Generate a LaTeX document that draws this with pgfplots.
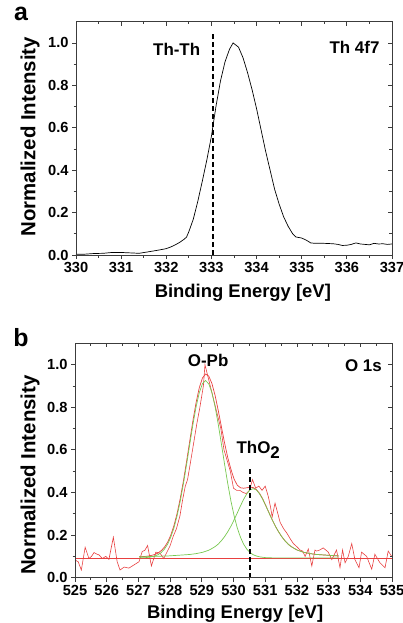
\documentclass[border=0pt]{standalone}
\usepackage{pgfplots}
\pgfplotsset{compat=1.18}
\usepackage{fontspec}
\setmainfont{Liberation Sans}
\definecolor{myred}{RGB}{232,64,64}
\definecolor{mygreen}{RGB}{120,200,80}
\definecolor{axgray}{RGB}{60,60,60}

\pgfplotsset{
  xpsbase/.style={
    scale only axis,
    ymin=0, ymax=1.1,
    ytick={0,0.2,0.4,0.6,0.8,1.0},
    minor y tick num=1,
    minor x tick num=1,
    axis line style={axgray, line width=0.8pt},
    every tick/.style={axgray, line width=0.8pt},
    major tick length=4bp,
    minor tick length=2.5bp,
    /pgf/number format/assume math mode=true,
    ticklabel style={font=\fontsize{14.7}{16}\selectfont\bfseries},
    yticklabel style={/pgf/number format/.cd, fixed, fixed zerofill, precision=1, /pgf/number format/assume math mode=true},
    xticklabel style={/pgf/number format/.cd, 1000 sep={}, /pgf/number format/assume math mode=true},
  },
  mainax/.style={xpsbase, tick align=outside, xtick pos=left, ytick pos=left},
  mirrorax/.style={xpsbase, tick align=inside, xtick pos=right, ytick pos=right,
    xticklabels={}, yticklabels={}},
}

\begin{document}
\begin{tikzpicture}
\useasboundingbox (0,0) rectangle (403bp,-623bp);

% ---------------- panel a ----------------
\begin{axis}[mainax, at={(76bp,-255bp)}, anchor=south west,
  width=316bp, height=233.3bp,
  xmin=330, xmax=337, xtick={330,331,...,337},
  xlabel={Binding Energy [eV]}, ylabel={Normalized Intensity},
  every axis x label/.style={at={(axis description cs:0.528,-0.162)}, anchor=center, font=\fontsize{18.5}{20}\selectfont\bfseries},
  every axis y label/.style={at={(axis description cs:-0.1456,0.507)}, rotate=90, anchor=center, font=\fontsize{20.5}{22}\selectfont\bfseries},
  clip=false]
\addplot[black, line width=0.7pt] coordinates {
(330.0,0.003) (330.2,0.004) (330.4,0.007) (330.6,0.008) (330.8,0.012)
(331.0,0.012) (331.2,0.010) (331.4,0.008) (331.6,0.015) (331.8,0.022)
(332.0,0.030) (332.1,0.038) (332.2,0.048) (332.3,0.060) (332.4,0.075)
(332.45,0.085) (332.5,0.110) (332.6,0.170) (332.7,0.255) (332.8,0.350)
(332.9,0.450) (333.0,0.560) (333.1,0.700) (333.2,0.820) (333.3,0.910)
(333.4,0.970) (333.48,1.000) (333.6,0.980) (333.7,0.930) (333.8,0.860)
(333.9,0.780) (334.0,0.690) (334.1,0.590) (334.2,0.490) (334.3,0.400)
(334.4,0.310) (334.5,0.240) (334.6,0.180) (334.7,0.135) (334.8,0.100)
(334.87,0.085) (335.0,0.080) (335.1,0.070) (335.2,0.057) (335.3,0.055)
(335.5,0.055) (335.7,0.053) (335.8,0.050) (335.9,0.045) (336.0,0.046)
(336.1,0.050) (336.2,0.057) (336.3,0.052) (336.4,0.050) (336.5,0.048)
(336.6,0.055) (336.7,0.052) (336.8,0.053) (336.9,0.050) (337.0,0.052)
};
\addplot[black, line width=1.5pt, dash pattern=on 5bp off 3bp] coordinates {(333.03,0) (333.03,1.04)};
\node[font=\fontsize{17}{19}\selectfont\bfseries] at (axis cs:332.23,0.97) {Th-Th};
\node[font=\fontsize{17}{19}\selectfont\bfseries] at (axis cs:336.17,0.98) {Th 4f7};
\end{axis}
\begin{axis}[mirrorax, at={(76bp,-255bp)}, anchor=south west,
  width=316bp, height=233.3bp,
  xmin=330, xmax=337, xtick={330,331,...,337}]
\end{axis}

% ---------------- panel b ----------------
\begin{axis}[mainax, at={(75bp,-577.7bp)}, anchor=south west,
  width=317bp, height=234.4bp,
  xmin=525, xmax=535, xtick={525,526,...,535},
  xlabel={Binding Energy [eV]}, ylabel={Normalized Intensity},
  every axis x label/.style={at={(axis description cs:0.505,-0.153)}, anchor=center, font=\fontsize{18.5}{20}\selectfont\bfseries},
  every axis y label/.style={at={(axis description cs:-0.142,0.438)}, rotate=90, anchor=center, font=\fontsize{20.5}{22}\selectfont\bfseries},
  clip=false]
% baseline
\addplot[myred, line width=0.7pt] coordinates {(525,0.093) (535,0.093)};
% measured data
\addplot[myred, line width=0.6pt] coordinates {
(525.00,0.083) (525.10,0.075) (525.20,0.036) (525.32,0.143) (525.44,0.090)
(525.52,0.100) (525.60,0.118) (525.70,0.110) (525.76,0.107) (525.86,0.090)
(525.97,0.100) (526.07,0.086) (526.21,0.190) (526.33,0.075) (526.42,0.036)
(526.55,0.050) (526.70,0.045) (526.86,0.060) (527.02,0.075) (527.12,0.123)
(527.20,0.128) (527.29,0.151) (527.41,0.055) (527.55,0.120) (527.68,0.115)
(527.80,0.090) (527.90,0.120) (528.00,0.150) (528.10,0.195) (528.20,0.230)
(528.31,0.290) (528.40,0.370) (528.48,0.430) (528.55,0.460) (528.63,0.530)
(528.73,0.620) (528.84,0.720) (528.94,0.800) (529.05,0.900) (529.10,1.000)
(529.20,0.940) (529.30,0.880) (529.40,0.820) (529.50,0.760) (529.60,0.700)
(529.70,0.600) (529.80,0.550) (529.90,0.500) (530.00,0.420) (530.10,0.410)
(530.20,0.410) (530.30,0.400) (530.40,0.395) (530.50,0.410) (530.60,0.460)
(530.70,0.420) (530.80,0.430) (530.90,0.410) (531.00,0.430) (531.10,0.380)
(531.17,0.330) (531.22,0.285) (531.31,0.350) (531.40,0.300) (531.47,0.260)
(531.58,0.230) (531.68,0.210) (531.80,0.180) (531.89,0.160) (532.00,0.145)
(532.10,0.130) (532.18,0.125) (532.26,0.100) (532.36,0.135) (532.47,0.055)
(532.57,0.130) (532.62,0.125) (532.72,0.130) (532.83,0.140) (532.99,0.120)
(533.10,0.085) (533.25,0.130) (533.36,0.047) (533.44,0.130) (533.52,0.070)
(533.62,0.100) (533.73,0.160) (533.83,0.085) (533.96,0.047) (534.04,0.120)
(534.20,0.100) (534.36,0.040) (534.46,0.110) (534.62,0.070) (534.78,0.047)
(534.88,0.125) (534.99,0.100)
};
% fit envelope
\addplot[myred, line width=0.7pt] coordinates {
(527.02,0.099) (527.12,0.099) (527.22,0.100) (527.32,0.102) (527.42,0.105)
(527.52,0.109) (527.62,0.116) (527.72,0.127) (527.82,0.143) (527.92,0.166)
(528.02,0.199) (528.12,0.244) (528.22,0.301) (528.32,0.372) (528.42,0.454)
(528.52,0.546) (528.62,0.642) (528.72,0.737) (528.82,0.822) (528.92,0.891)
(529.02,0.937) (529.12,0.956) (529.22,0.946) (529.32,0.911) (529.42,0.855)
(529.52,0.784) (529.62,0.707) (529.72,0.631) (529.82,0.563) (529.92,0.508)
(530.02,0.462) (530.12,0.434) (530.22,0.422) (530.32,0.420) (530.42,0.422)
(530.52,0.425) (530.62,0.423) (530.72,0.414) (530.82,0.396) (530.92,0.371)
(531.02,0.338) (531.12,0.305) (531.22,0.272) (531.32,0.242) (531.42,0.216)
(531.52,0.193) (531.62,0.174) (531.72,0.158) (531.82,0.146) (531.92,0.137)
(532.02,0.129) (532.12,0.124) (532.22,0.119) (532.32,0.116) (532.42,0.113)
(532.52,0.111) (532.62,0.109) (532.72,0.108) (532.82,0.107) (532.92,0.106)
(533.02,0.105) (533.12,0.104) (533.22,0.103) (533.32,0.102)
};
% component 1 (O-Pb)
\addplot[mygreen, line width=0.7pt] coordinates {
(527.02,0.093) (527.12,0.094) (527.22,0.094) (527.32,0.096) (527.42,0.098)
(527.52,0.102) (527.62,0.108) (527.72,0.118) (527.82,0.134) (527.92,0.157)
(528.02,0.190) (528.12,0.233) (528.22,0.290) (528.32,0.359) (528.42,0.441)
(528.52,0.531) (528.62,0.626) (528.72,0.719) (528.82,0.802) (528.92,0.868)
(529.02,0.910) (529.12,0.925) (529.22,0.910) (529.32,0.868) (529.42,0.802)
(529.52,0.719) (529.62,0.626) (529.72,0.531) (529.82,0.441) (529.92,0.359)
(530.02,0.290) (530.12,0.233) (530.22,0.190) (530.32,0.157) (530.42,0.134)
(530.52,0.118) (530.62,0.108) (530.72,0.102) (530.82,0.098) (530.92,0.096)
(531.02,0.094) (531.12,0.094) (531.22,0.093) (531.32,0.093) (533.32,0.093)
};
% component 2 (ThO2)
\addplot[mygreen, line width=0.7pt] coordinates {
(527.02,0.098) (527.12,0.099) (527.22,0.099) (527.32,0.099) (527.42,0.100)
(527.52,0.100) (527.62,0.101) (527.72,0.101) (527.82,0.102) (527.92,0.102)
(528.02,0.103) (528.12,0.104) (528.22,0.105) (528.32,0.106) (528.42,0.107)
(528.52,0.108) (528.62,0.109) (528.72,0.111) (528.82,0.113) (528.92,0.116)
(529.02,0.119) (529.12,0.124) (529.22,0.129) (529.32,0.137) (529.42,0.146)
(529.52,0.158) (529.62,0.174) (529.72,0.193) (529.82,0.216) (529.92,0.242)
(530.02,0.272) (530.12,0.304) (530.22,0.337) (530.32,0.368) (530.42,0.394)
(530.52,0.412) (530.62,0.418) (530.72,0.412) (530.82,0.394) (530.92,0.368)
(531.02,0.337) (531.12,0.304) (531.22,0.272) (531.32,0.242) (531.42,0.216)
(531.52,0.193) (531.62,0.174) (531.72,0.158) (531.82,0.146) (531.92,0.137)
(532.02,0.129) (532.12,0.124) (532.22,0.119) (532.32,0.116) (532.42,0.113)
(532.52,0.111) (532.62,0.109) (532.72,0.108) (532.82,0.107) (532.92,0.106)
(533.02,0.105) (533.12,0.104) (533.22,0.103) (533.32,0.102)
};
\addplot[black, line width=1.5pt, dash pattern=on 5bp off 3bp] coordinates {(530.52,0) (530.52,0.52)};
\node[font=\fontsize{17}{19}\selectfont\bfseries] at (axis cs:529.2,1.02) {O-Pb};
\node[font=\fontsize{17}{19}\selectfont\bfseries] at (axis cs:534.1,0.995) {O 1s};
\node[font=\fontsize{17}{19}\selectfont\bfseries] at (axis cs:530.78,0.60) {ThO\raisebox{-0.45ex}{2}};
\end{axis}
\begin{axis}[mirrorax, at={(75bp,-577.7bp)}, anchor=south west,
  width=317bp, height=234.4bp,
  xmin=525, xmax=535, xtick={525,526,...,535}]
\end{axis}

% panel letters
\node[font=\fontsize{25}{26}\selectfont\bfseries, anchor=base, inner sep=0pt] at (21bp,-20bp) {a};
\node[font=\fontsize{25}{26}\selectfont\bfseries, anchor=base, inner sep=0pt] at (21bp,-346.5bp) {b};
\end{tikzpicture}
\end{document}
